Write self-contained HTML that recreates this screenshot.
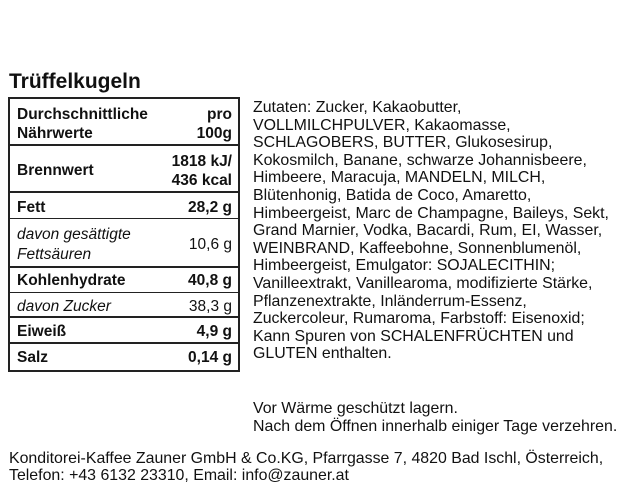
<!DOCTYPE html>
<html><head><meta charset="utf-8"><style>
body{margin:0;width:628px;height:492px;background:#fff;position:relative;font-family:"Liberation Sans",Arial,sans-serif;color:#111;overflow:hidden}
.a{position:absolute;white-space:nowrap;line-height:18px}
.t{font-size:15.5px;font-weight:bold}
.r{text-align:right;right:396px}
.l{left:17px}
.i{font-style:italic;font-weight:normal}
.n{font-weight:normal}
.h{position:absolute;left:9px;width:230px;background:#222}
.ing{position:absolute;left:253px;top:99px;font-size:15.9px;line-height:17.6px;white-space:nowrap}
.f{font-size:15.9px}
</style></head><body>
<div class="a" style="left:9px;top:72px;font-size:21px;font-weight:bold;line-height:20px">Trüffelkugeln</div>
<div style="position:absolute;left:8px;top:97px;width:228px;height:271px;border:2px solid #222"></div>
<div class="h" style="top:144px;height:2px"></div>
<div class="h" style="top:191px;height:2px"></div>
<div class="h" style="top:218px;height:1px"></div>
<div class="h" style="top:266px;height:2px"></div>
<div class="h" style="top:292px;height:1px"></div>
<div class="h" style="top:316px;height:2px"></div>
<div class="h" style="top:342px;height:2px"></div>

<div class="a t l" style="top:106px">Durchschnittliche</div>
<div class="a t l" style="top:125px">Nährwerte</div>
<div class="a t r" style="top:106px">pro</div>
<div class="a t r" style="top:125px">100g</div>
<div class="a t l" style="top:162px">Brennwert</div>
<div class="a t r" style="top:153px">1818 kJ/</div>
<div class="a t r" style="top:172px">436 kcal</div>
<div class="a t l" style="top:199px">Fett</div>
<div class="a t r" style="top:199px">28,2 g</div>
<div class="a t l i" style="top:226px">davon gesättigte</div>
<div class="a t l i" style="top:246px">Fettsäuren</div>
<div class="a t r n" style="top:236px">10,6 g</div>
<div class="a t l" style="top:272px">Kohlenhydrate</div>
<div class="a t r" style="top:272px">40,8 g</div>
<div class="a t l i" style="top:298px">davon Zucker</div>
<div class="a t r n" style="top:298px">38,3 g</div>
<div class="a t l" style="top:323px">Eiweiß</div>
<div class="a t r" style="top:323px">4,9 g</div>
<div class="a t l" style="top:349px">Salz</div>
<div class="a t r" style="top:349px">0,14 g</div>

<div class="ing">Zutaten: Zucker, Kakaobutter,<br>VOLLMILCHPULVER, Kakaomasse,<br>SCHLAGOBERS, BUTTER, Glukosesirup,<br>Kokosmilch, Banane, schwarze Johannisbeere,<br>Himbeere, Maracuja, MANDELN, MILCH,<br>Blütenhonig, Batida de Coco, Amaretto,<br>Himbeergeist, Marc de Champagne, Baileys, Sekt,<br>Grand Marnier, Vodka, Bacardi, Rum, EI, Wasser,<br>WEINBRAND, Kaffeebohne, Sonnenblumenöl,<br>Himbeergeist, Emulgator: SOJALECITHIN;<br>Vanilleextrakt, Vanillearoma, modifizierte Stärke,<br>Pflanzenextrakte, Inländerrum-Essenz,<br>Zuckercoleur, Rumaroma, Farbstoff: Eisenoxid;<br>Kann Spuren von SCHALENFRÜCHTEN und<br>GLUTEN enthalten.</div>

<div class="a f" style="left:253px;top:400px">Vor Wärme geschützt lagern.</div>
<div class="a f" style="left:253px;top:418px">Nach dem Öffnen innerhalb einiger Tage verzehren.</div>
<div class="a f" style="left:9px;top:450px">Konditorei-Kaffee Zauner GmbH &amp; Co.KG, Pfarrgasse 7, 4820 Bad Ischl, Österreich,</div>
<div class="a f" style="left:9px;top:467px">Telefon: +43 6132 23310, Email: info@zauner.at</div>
</body></html>
